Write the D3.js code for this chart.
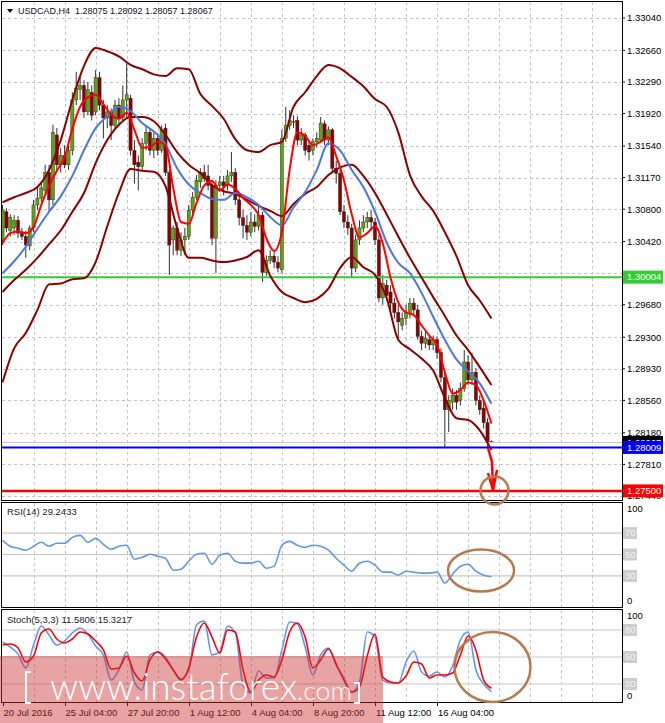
<!DOCTYPE html>
<html><head><meta charset="utf-8">
<script src="https://cdn.jsdelivr.net/npm/d3@7"></script>
<style>
body{margin:0;background:#fff;}
svg{display:block;font-family:"Liberation Sans",Arial,sans-serif;}
</style>
</head><body>
<svg id="c" width="665" height="723"></svg>
<script>
// ---------- DATA ----------
const open = [
1.3044,1.3077,1.3055,1.3058,1.3067,1.3052,1.3048,1.3037,1.3058,1.3085,
1.3093,1.3102,1.3123,1.3091,1.3167,1.3132,1.3143,1.3132,1.3149,1.3208,
1.3220,1.3225,1.3194,1.3217,1.3194,1.3234,1.3202,1.3187,1.3194,1.3178,
1.3202,1.3187,1.3208,1.3210,1.3149,1.3135,1.3130,1.3157,1.3170,1.3149,
1.3163,1.3149,1.3175,1.3123,1.3044,1.3058,1.3032,1.3044,1.3048,1.3079,
1.3094,1.3112,1.3123,1.3119,1.3108,1.3046,1.3108,1.3112,1.3109,1.3119,
1.3123,1.3091,1.3070,1.3061,1.3053,1.3065,1.3060,1.3073,1.3006,1.3020,
1.3025,1.3018,1.3009,1.3163,1.3178,1.3182,1.3184,1.3161,1.3167,1.3155,
1.3149,1.3159,1.3161,1.3180,1.3161,1.3173,1.3128,1.3122,1.3077,1.3065,
1.3058,1.3011,1.3044,1.3058,1.3065,1.3070,1.3065,1.3044,1.2976,1.2991,
1.2983,1.2970,1.2959,1.2944,1.2952,1.2958,1.2970,1.2962,1.2931,1.2923,
1.2927,1.2921,1.2927,1.2912,1.2883,1.2845,1.2854,1.2862,1.2856,1.2870,
1.2901,1.2880,1.2889,1.2856,1.2847,1.2830,1.28075];
const high = [
1.3085,1.3081,1.3074,1.3073,1.3072,1.3058,1.3055,1.3061,1.3091,1.3105,
1.3112,1.3132,1.3132,1.3179,1.3175,1.3152,1.3155,1.3159,1.3217,1.3241,
1.3237,1.3231,1.3229,1.3225,1.3243,1.3241,1.3208,1.3202,1.3198,1.3208,
1.3210,1.3225,1.3251,1.3214,1.3161,1.3143,1.3163,1.3178,1.3175,1.3170,
1.3169,1.3178,1.3180,1.3126,1.3061,1.3065,1.3053,1.3058,1.3085,1.3100,
1.3120,1.3128,1.3132,1.3132,1.3114,1.3114,1.3119,1.3119,1.3126,1.3147,
1.3128,1.3096,1.3079,1.3073,1.3077,1.3074,1.3085,1.3077,1.3026,1.3032,
1.3030,1.3025,1.3173,1.3200,1.3196,1.3190,1.3189,1.3175,1.3170,1.3161,
1.3163,1.3170,1.3188,1.3184,1.3177,1.3175,1.3137,1.3126,1.3085,1.3073,
1.3063,1.3050,1.3067,1.3073,1.3077,1.3079,1.3070,1.3050,1.3003,1.2997,
1.2991,1.2976,1.2968,1.2959,1.2968,1.2976,1.2976,1.2968,1.2938,1.2936,
1.2932,1.2932,1.2931,1.2917,1.2889,1.2862,1.2870,1.2868,1.2877,1.2915,
1.2909,1.2912,1.2894,1.2862,1.2854,1.2835,1.28092];
const low = [
1.3038,1.3053,1.3048,1.3050,1.3046,1.3044,1.3023,1.3032,1.3053,1.3079,
1.3088,1.3096,1.3077,1.3085,1.3126,1.3123,1.3128,1.3126,1.3143,1.3202,
1.3208,1.3187,1.3190,1.3184,1.3190,1.3196,1.3163,1.3175,1.3161,1.3175,
1.3178,1.3182,1.3187,1.3143,1.3110,1.3102,1.3126,1.3149,1.3143,1.3140,
1.3143,1.3146,1.3119,1.3003,1.3026,1.3026,1.3025,1.3026,1.3044,1.3074,
1.3091,1.3105,1.3112,1.3102,1.3038,1.3005,1.3100,1.3096,1.3102,1.3112,
1.3085,1.3061,1.3046,1.3044,1.3048,1.3053,1.3055,1.2995,1.3002,1.3016,
1.3011,1.3006,1.3005,1.3159,1.3173,1.3175,1.3155,1.3155,1.3143,1.3137,
1.3143,1.3152,1.3159,1.3155,1.3155,1.3123,1.3110,1.3073,1.3058,1.3050,
1.3000,1.3006,1.3038,1.3053,1.3058,1.3055,1.3038,1.2971,1.2968,1.2973,
1.2962,1.2952,1.2927,1.2938,1.2944,1.2952,1.2955,1.2927,1.2915,1.2917,
1.2915,1.2915,1.2905,1.2877,1.2800,1.2819,1.2845,1.2845,1.2850,1.2866,
1.2874,1.2874,1.2850,1.2839,1.2823,1.2800,1.28057];
const close = [
1.3079,1.3058,1.3070,1.3067,1.3052,1.3048,1.3038,1.3058,1.3085,1.3093,
1.3105,1.3123,1.3091,1.3170,1.3132,1.3143,1.3132,1.3149,1.3208,1.3222,
1.3225,1.3194,1.3220,1.3190,1.3234,1.3202,1.3187,1.3194,1.3178,1.3202,
1.3187,1.3208,1.3214,1.3149,1.3132,1.3130,1.3157,1.3170,1.3149,1.3163,
1.3149,1.3173,1.3123,1.3038,1.3058,1.3032,1.3044,1.3048,1.3079,1.3094,
1.3114,1.3123,1.3116,1.3108,1.3046,1.3108,1.3112,1.3107,1.3119,1.3123,
1.3091,1.3070,1.3061,1.3053,1.3065,1.3060,1.3073,1.3006,1.3020,1.3025,
1.3018,1.3011,1.3163,1.3178,1.3184,1.3183,1.3161,1.3167,1.3149,1.3147,
1.3159,1.3163,1.3181,1.3161,1.3173,1.3128,1.3122,1.3077,1.3065,1.3058,
1.3011,1.3044,1.3058,1.3065,1.3070,1.3065,1.3044,1.2976,1.2993,1.2979,
1.2970,1.2959,1.2948,1.2952,1.2959,1.2970,1.2962,1.2931,1.2923,1.2929,
1.2921,1.2927,1.2912,1.2883,1.2845,1.2856,1.2862,1.2854,1.2870,1.2901,
1.2880,1.2889,1.2856,1.2845,1.2830,1.28075,1.28067];

// indicator lines, one value every 3 bars
const bandStep = 3;
const upperBand = [1.3088,1.3094,1.3099,1.3106,1.3126,1.3161,1.3208,1.3248,1.3269,1.3265,1.3259,1.3249,1.3244,1.3238,1.3236,1.3245,1.3244,1.3215,1.3201,1.3186,1.3162,1.3149,1.3147,1.3155,1.3159,1.3200,1.3217,1.3236,1.3249,1.3245,1.3235,1.3224,1.3209,1.3200,1.3170,1.3120,1.3095,1.3078,1.3053,1.3025,1.2991,1.2973,1.2952];
const midBand = [1.2983,1.2997,1.3009,1.3023,1.3039,1.3055,1.3077,1.3099,1.3134,1.3161,1.3179,1.3188,1.3188,1.3183,1.3167,1.3147,1.3132,1.3122,1.3108,1.3101,1.3098,1.3091,1.3084,1.3078,1.3072,1.3086,1.3098,1.3106,1.3120,1.3129,1.3132,1.3119,1.3099,1.3074,1.3048,1.3023,1.3000,1.2977,1.2955,1.2932,1.2915,1.2895,1.2874];
const lowerBand = [1.2877,1.2917,1.2935,1.2962,1.2992,1.2993,1.2998,1.2999,1.3018,1.3060,1.3099,1.3127,1.3125,1.3124,1.3107,1.3058,1.3023,1.3023,1.3020,1.3018,1.3020,1.3024,1.3032,1.3002,1.2983,1.2976,1.2971,1.2975,1.2987,1.3011,1.3024,1.3012,1.3003,1.2976,1.2927,1.2916,1.2905,1.2891,1.2859,1.2835,1.2833,1.2821,1.2798];
const blueMA = [1.3005,1.3019,1.3036,1.3057,1.3077,1.3095,1.3119,1.3149,1.3175,1.3189,1.3200,1.3195,1.3181,1.3171,1.3156,1.3128,1.3109,1.3099,1.3092,1.3091,1.3099,1.3094,1.3085,1.3071,1.3061,1.3082,1.3100,1.3126,1.3157,1.3149,1.3126,1.3106,1.3077,1.3041,1.3017,1.3005,1.2982,1.2954,1.2927,1.2904,1.2890,1.2876,1.2852];
// one value every 2 bars
const fineStep = 2;
const redMA = [1.3040,1.3052,1.3054,1.3052,1.3059,1.3085,1.3107,1.3125,1.3141,1.3174,1.3200,1.3211,1.3214,1.3203,1.3191,1.3186,1.3193,1.3173,1.3152,1.3153,1.3159,1.3155,1.3105,1.3065,1.3063,1.3087,1.3108,1.3113,1.3102,1.3109,1.3104,1.3093,1.3085,1.3073,1.3046,1.3031,1.3053,1.3126,1.3170,1.3166,1.3155,1.3159,1.3164,1.3142,1.3114,1.3074,1.3047,1.3052,1.3060,1.3040,1.3000,1.2971,1.2959,1.2956,1.2944,1.2932,1.2921,1.2889,1.2864,1.2868,1.2877,1.2874,1.2856,1.2829];
const rsi = [63.3,57.7,55.8,54.0,57.7,61.4,57.7,60.5,60.5,66.0,67.9,61.4,65.1,59.5,54.9,57.7,58.6,45.6,47.4,50.2,48.4,46.5,35.3,36.3,43.7,50.2,51.2,40.9,49.3,51.2,43.7,41.9,41.9,43.7,37.2,39.1,58.6,62.3,58.6,56.7,58.6,57.7,54.0,46.5,40.0,34.4,41.9,43.7,40.0,33.5,33.5,30.7,34.4,33.5,32.6,32.6,33.5,23.3,31.6,39.1,40.9,34.4,30.7,29.2433];
const stochK = [66.7,61.1,53.3,37.8,63.3,84.4,74.4,63.3,67.8,76.7,82.2,75.6,62.2,52.2,24.4,35.6,55.6,22.2,13.3,52.2,55.6,50.0,35.6,25.6,35.6,85.6,90.0,52.2,55.6,84.4,76.7,18.9,10.0,34.4,26.7,26.7,57.8,88.9,86.7,61.1,30.0,52.2,60.0,41.1,26.7,11.1,22.2,77.8,72.2,24.4,21.1,21.1,44.4,56.7,33.3,28.9,33.3,27.8,40.0,68.9,77.8,35.6,20.0,11.5806];
const stochD = [63.3,64.4,60.0,44.4,51.1,76.7,81.1,70.0,65.6,70.0,77.8,75.6,67.8,57.8,36.7,37.8,51.1,32.2,23.3,46.7,55.6,47.8,35.6,24.4,37.8,72.2,87.8,72.2,54.4,80.0,77.8,35.6,11.1,24.4,30.0,27.8,46.7,77.8,87.8,72.2,37.8,46.7,58.9,42.2,24.4,11.1,16.7,51.1,75.6,27.8,22.2,21.1,28.9,44.4,42.2,26.7,30.0,30.0,32.2,52.2,73.3,57.8,24.4,15.3217];

const priceTicks = [1.33040,1.32660,1.32290,1.31920,1.31540,1.31170,1.30800,1.30420,1.30050,1.29680,1.29300,1.28930,1.28560,1.28180,1.27810,1.27440];
const timeLabels = ["20 Jul 2016","25 Jul 04:00","27 Jul 20:00","1 Aug 12:00","4 Aug 04:00","8 Aug 20:00","11 Aug 12:00","16 Aug 04:00"];
const timeLabelBars = [0,16,32,48,64,80,96,112];
const supportLevel = 1.30004, blueLevel = 1.28009, targetLevel = 1.27500, lastPrice = 1.28067;
const rsiLevels = [70,50,30];
const stochLevels = [80,50,20];

// ---------- LAYOUT ----------
const svg = d3.select('#c');
const L = 2, R = 622;
const mainP = {t:2, b:500}, rsiP = {t:503, b:607}, stoP = {t:610, b:702};
const nBars = close.length;
const x = d3.scaleLinear().domain([0, nBars-1]).range([2.5, 491.4]);
const y = d3.scaleLinear().domain([1.27440, 1.33040]).range([496, 18]);
const yR = d3.scaleLinear().domain([0,100]).range([608, 501]);
const yS = d3.scaleLinear().domain([0,100]).range([702, 612]);
const GRID = '#c4c4c4';
const FS = 9.5;

svg.append('rect').attr('width',665).attr('height',723).attr('fill','#fff');

// clip paths
const defs = svg.append('defs');
[['cm',mainP],['cr',rsiP],['cs',stoP]].forEach(([id,p])=>{
  defs.append('clipPath').attr('id',id).append('rect')
    .attr('x',L).attr('y',p.t).attr('width',R-L).attr('height',p.b-p.t);
});

// vertical grid in every panel
const vgrid = d3.range(8, 200, 8).filter(i => x(i) < R-2);
[mainP, rsiP, stoP].forEach(p=>{
  svg.append('g').selectAll('line').data(vgrid).join('line')
    .attr('x1',d=>Math.round(x(d))+0.5).attr('x2',d=>Math.round(x(d))+0.5)
    .attr('y1',p.t).attr('y2',p.b)
    .attr('stroke',GRID).attr('stroke-dasharray','3,3');
});
// horizontal price grid
svg.append('g').selectAll('line').data(priceTicks).join('line')
  .attr('x1',L).attr('x2',R).attr('y1',d=>Math.round(y(d))+0.5).attr('y2',d=>Math.round(y(d))+0.5)
  .attr('stroke',GRID).attr('stroke-dasharray','3,3');

// ---------- MAIN PANEL ----------
const gMain = svg.append('g').attr('clip-path','url(#cm)');
const bars = d3.range(nBars).map(i=>({i,o:open[i],h:high[i],l:low[i],c:close[i]}));
gMain.append('g').selectAll('line').data(bars).join('line')
  .attr('x1',d=>x(d.i)).attr('x2',d=>x(d.i))
  .attr('y1',d=>y(d.h)).attr('y2',d=>y(d.l))
  .attr('stroke','#333').attr('stroke-width',1);
gMain.append('g').selectAll('rect').data(bars).join('rect')
  .attr('x',d=>x(d.i)-1.6).attr('width',3.2)
  .attr('y',d=>y(Math.max(d.o,d.c)))
  .attr('height',d=>Math.max(1, Math.abs(y(d.o)-y(d.c))))
  .attr('fill',d=>d.c>=d.o ? '#5fa312' : '#8b0000')
  .attr('stroke','#222').attr('stroke-width',0.4);

// last price line (grey)
gMain.append('line').attr('x1',L).attr('x2',R).attr('y1',y(lastPrice)).attr('y2',y(lastPrice))
  .attr('stroke','#c8c8c8').attr('stroke-width',1);

// horizontal levels
[[supportLevel,'#33cc33',2],[blueLevel,'#0000ff',2],[targetLevel,'#ff0000',2.5]].forEach(([v,c,w])=>{
  gMain.append('line').attr('x1',L).attr('x2',R).attr('y1',y(v)).attr('y2',y(v))
    .attr('stroke',c).attr('stroke-width',w);
});

function pathOf(arr, step, sc){
  return d3.line().x((d,k)=>x(k*step)).y(d=>sc(d)).curve(d3.curveMonotoneX)(arr);
}
[upperBand, midBand, lowerBand].forEach(a=>{
  gMain.append('path').attr('d',pathOf(a,bandStep,y)).attr('fill','none')
    .attr('stroke','#8b0000').attr('stroke-width',2);
});
gMain.append('path').attr('d',pathOf(blueMA,bandStep,y)).attr('fill','none')
  .attr('stroke','#4a78e0').attr('stroke-width',2);
gMain.append('path').attr('d',pathOf(redMA,fineStep,y)).attr('fill','none')
  .attr('stroke','#ff0000').attr('stroke-width',2);

// header
svg.append('path').attr('d','M7,9 L13,9 L10,13 Z').attr('fill','#000');
svg.append('text').attr('x',18).attr('y',14).attr('font-size',9).attr('fill','#10102a')
  .style('white-space','pre')
  .text('USDCAD,H4  1.28075 1.28092 1.28057 1.28067');

// ---------- RSI PANEL ----------
const gR = svg.append('g').attr('clip-path','url(#cr)');
gR.selectAll('line').data(rsiLevels).join('line')
  .attr('x1',L).attr('x2',R).attr('y1',d=>yR(d)).attr('y2',d=>yR(d))
  .attr('stroke','#c8c8c8').attr('stroke-width',1.2);
gR.append('path').attr('d',pathOf(rsi,fineStep,yR)).attr('fill','none')
  .attr('stroke','#6495ed').attr('stroke-width',1.6);
svg.append('text').attr('x',7).attr('y',515).attr('font-size',FS).attr('fill','#222')
  .text('RSI(14) 29.2433');

// ---------- STOCH PANEL ----------
const gS = svg.append('g').attr('clip-path','url(#cs)');
gS.selectAll('line').data(stochLevels).join('line')
  .attr('x1',L).attr('x2',R).attr('y1',d=>yS(d)).attr('y2',d=>yS(d))
  .attr('stroke','#c8c8c8').attr('stroke-width',1.2);
gS.append('path').attr('d',pathOf(stochK,fineStep,yS)).attr('fill','none')
  .attr('stroke','#6495ed').attr('stroke-width',1.6);
gS.append('path').attr('d',pathOf(stochD,fineStep,yS)).attr('fill','none')
  .attr('stroke','#ff0000').attr('stroke-width',1.6);
svg.append('text').attr('x',7).attr('y',623).attr('font-size',FS).attr('fill','#222')
  .text('Stoch(5,3,3) 11.5806 15.3217');

// ---------- FRAMES ----------
[mainP, rsiP, stoP].forEach(p=>{
  svg.append('rect').attr('x',L-0.5).attr('y',p.t-0.5).attr('width',R-L+1).attr('height',p.b-p.t+1)
    .attr('fill','none').attr('stroke','#000').attr('stroke-width',1);
});

// ---------- RIGHT AXES ----------
const gA = svg.append('g').attr('font-size',FS).attr('fill','#000');
const boxLevels = [supportLevel, blueLevel];
priceTicks.forEach(v=>{
  const yy = y(v);
  gA.append('line').attr('x1',R).attr('x2',R+3).attr('y1',yy).attr('y2',yy).attr('stroke','#000');
  // labels fully covered by a level box are not visible in the reference
  if (boxLevels.some(b => Math.abs(y(b)-yy) < 7)) return;
  gA.append('text').attr('x',627).attr('y',yy).attr('dy','0.35em').text(v.toFixed(5));
});
function priceBox(v, fill){
  const yy = y(v);
  gA.append('rect').attr('x',623).attr('y',yy-6.5).attr('width',40).attr('height',13).attr('fill',fill);
  gA.append('text').attr('x',627).attr('y',yy).attr('dy','0.35em').attr('fill','#fff').text(v.toFixed(5));
}
priceBox(supportLevel,'#33cc33');
priceBox(lastPrice,'#000');
priceBox(blueLevel,'#0000ff');
priceBox(targetLevel,'#ff0000');

function indAxis(sc, p, levels){
  const top = Math.max(sc(100), p.t+6), bot = Math.min(sc(0), p.b-6);
  gA.append('text').attr('x',627).attr('y',top).attr('dy','0.35em').text('100');
  gA.append('text').attr('x',627).attr('y',bot).attr('dy','0.35em').text('0');
  levels.forEach(v=>{
    gA.append('rect').attr('x',623).attr('y',sc(v)-6).attr('width',14).attr('height',12).attr('fill','#cdcdcd');
    gA.append('text').attr('x',625).attr('y',sc(v)).attr('dy','0.35em').attr('fill','#f4f4f4').text(v);
  });
}
indAxis(yR, rsiP, rsiLevels);
indAxis(yS, stoP, stochLevels);

// ---------- TIME AXIS ----------
timeLabelBars.forEach((b,k)=>{
  const xx = Math.round(x(b))+0.5;
  svg.append('line').attr('x1',xx).attr('x2',xx).attr('y1',stoP.b).attr('y2',stoP.b+4).attr('stroke','#000');
  svg.append('text').attr('x',x(b)+1).attr('y',716).attr('font-size',FS).attr('fill','#000').text(timeLabels[k]);
});

// ---------- ANNOTATIONS ----------
const ann = svg.append('g').attr('fill','none');
ann.append('path').attr('d','M488,448 L492,462 L493,490').attr('stroke','#ff0000').attr('stroke-width',2.5);
ann.append('path').attr('d','M488,473 L493,490 L497,470').attr('stroke','#ff0000').attr('stroke-width',2.5);
ann.append('ellipse').attr('cx',494.5).attr('cy',490.5).attr('rx',14).attr('ry',14)
  .attr('stroke','#b77a4e').attr('stroke-width',2.5);
ann.append('ellipse').attr('cx',481).attr('cy',570.5).attr('rx',33).attr('ry',21)
  .attr('stroke','#b77a4e').attr('stroke-width',2.5);
ann.append('ellipse').attr('cx',492.5).attr('cy',667).attr('rx',38).attr('ry',35)
  .attr('stroke','#b77a4e').attr('stroke-width',2.5);

// ---------- WATERMARK ----------
svg.append('rect').attr('x',0).attr('y',656).attr('width',383).attr('height',67)
  .attr('fill','#cc3333').attr('opacity',0.45);
const wm = svg.append('g').attr('fill','none').attr('stroke','#fff').attr('stroke-width',2);
wm.append('path').attr('d','M31,672 H26 V703 H31');
wm.append('path').attr('d','M354,683 H359 V703 H354');
svg.append('text').attr('x',50).attr('y',700).attr('font-size',37)
  .attr('font-family','Lato, "Liberation Sans", sans-serif').attr('font-weight',300).attr('fill','#fff')
  .attr('textLength',247).attr('lengthAdjust','spacingAndGlyphs')
  .text('www.instaforex');
svg.append('text').attr('x',297).attr('y',700).attr('font-size',26)
  .attr('font-family','Lato, "Liberation Sans", sans-serif').attr('font-weight',300).attr('fill','#fff')
  .attr('textLength',55).attr('lengthAdjust','spacingAndGlyphs')
  .text('.com');
</script>
</body></html>
